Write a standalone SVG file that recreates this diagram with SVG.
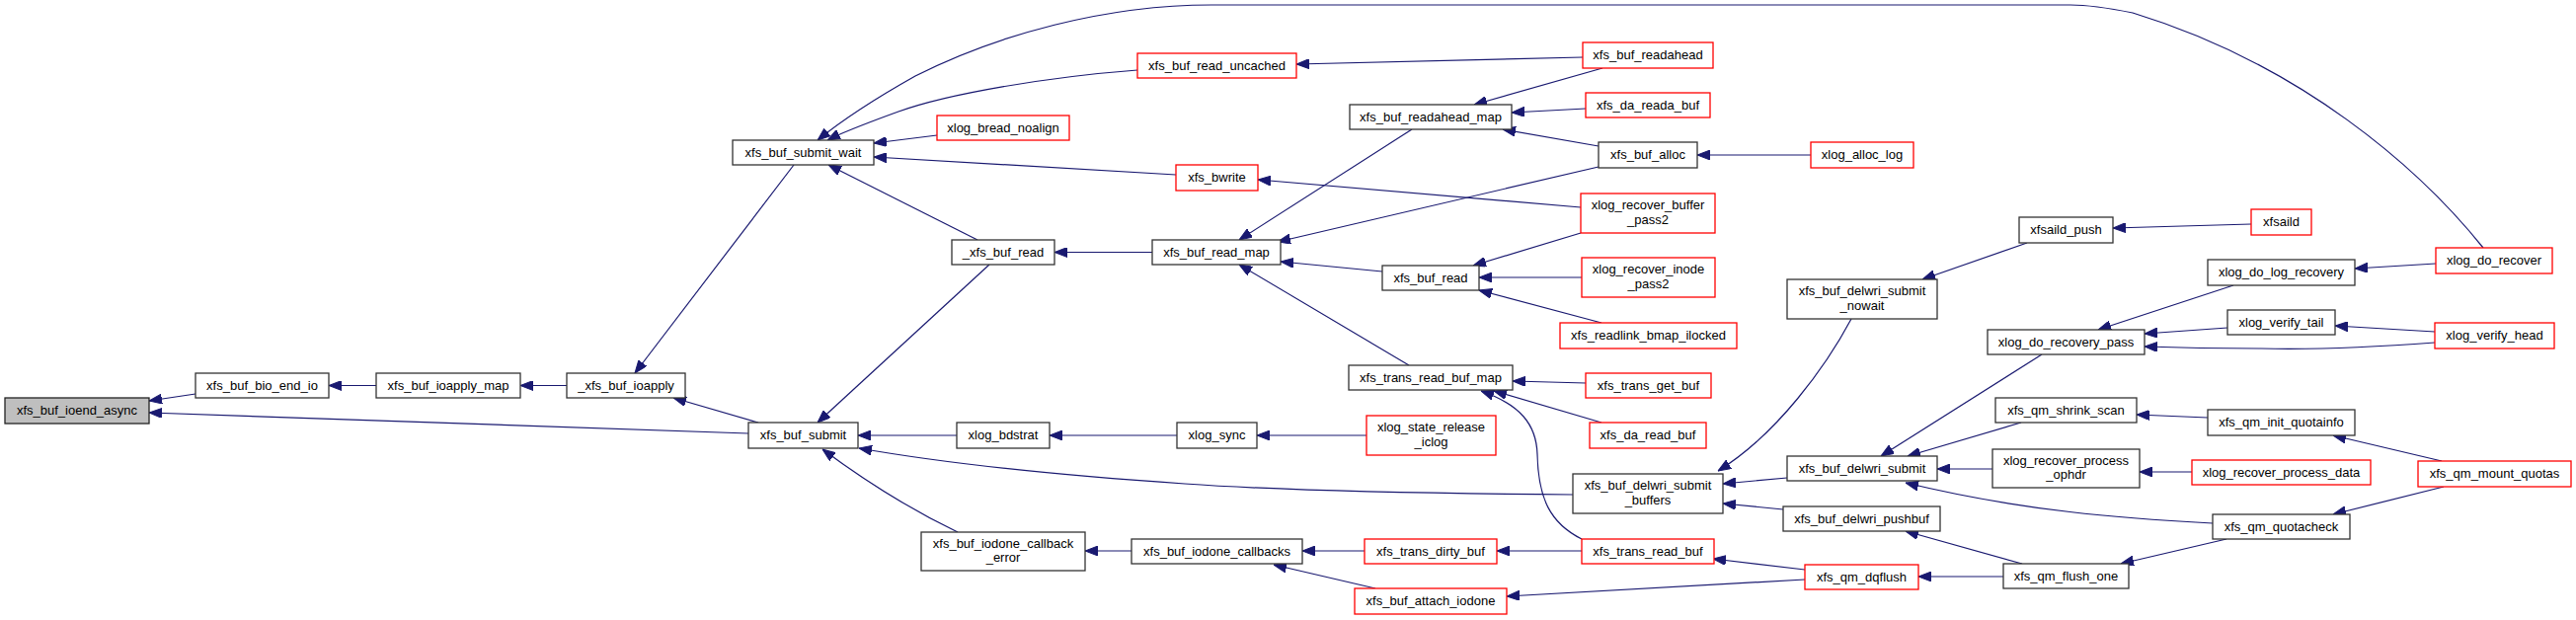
<svg xmlns="http://www.w3.org/2000/svg" width="2609" height="628" viewBox="0 0 2609 628">
<style>
.n rect{fill:#fff;stroke:#333;stroke-width:1.3}
.r rect{fill:#fff;stroke:#f00;stroke-width:1.3}
.root rect{fill:#bfbfbf;stroke:#222;stroke-width:1.3}
text{font-family:"Liberation Sans",Arial,sans-serif;font-size:13px;fill:#000;text-anchor:middle}
#edges path{fill:none;stroke:#191970;stroke-width:1.2;marker-end:url(#ah)}
</style>
<defs>
<marker id="ah" viewBox="0 0 13 10" refX="13" refY="5" markerWidth="13" markerHeight="10" markerUnits="userSpaceOnUse" orient="auto"><path d="M0,0 L13,5 L0,10 z" fill="#191970" stroke="#191970"/></marker>
</defs>
<rect width="2609" height="628" fill="#fff"/>
<g id="edges">
<path d="M198,399 L151,406"/>
<path d="M758,439 L151,418"/>
<path d="M381,390.5 L333,390.5"/>
<path d="M574,390.5 L527,390.5"/>
<path d="M804,167 L643,378"/>
<path d="M768,428 L682,403"/>
<path d="M2515,251 C2450,170 2330,65 2160,13 C2130,7 2110,5 2097,5 L1227,5 C1120,5 1010,35 927,77 C895,95 855,120 828,142"/>
<path d="M1152,71 C1060,78 960,95 910,113 C880,124 855,133 838,142"/>
<path d="M949,137 L885,145"/>
<path d="M1191,177 L885,159"/>
<path d="M990,243 L839,167"/>
<path d="M1167,255.5 L1068,255.5"/>
<path d="M1603,58 L1313,65"/>
<path d="M1623,69 L1493,106"/>
<path d="M1606,110 L1531,114"/>
<path d="M1619,148 L1522,131"/>
<path d="M1430,131 L1255,243"/>
<path d="M1619,169 L1294,245"/>
<path d="M1601,210 L1274,182"/>
<path d="M1400,275 L1297,265"/>
<path d="M1427,370 L1255,268"/>
<path d="M1601,236 L1492,269"/>
<path d="M1602,281 L1498,281"/>
<path d="M1622,327 L1498,294"/>
<path d="M1834,157 L1719,157"/>
<path d="M1606,388 L1532,386"/>
<path d="M1622,428 L1513,396"/>
<path d="M1602,546 C1570,530 1558,505 1557,460 C1556,430 1540,410 1500,396"/>
<path d="M1192,441 L1063,441"/>
<path d="M969,441 L869,441"/>
<path d="M1384,441 L1273,441"/>
<path d="M1593,501 C1450,500 1300,497 1200,490 C1050,480 950,468 870,454"/>
<path d="M970,539 C920,515 880,490 833,455"/>
<path d="M1002,268 L828,428"/>
<path d="M1146,558 L1099,558"/>
<path d="M1382,558 L1319,558"/>
<path d="M1393,596 L1290,572"/>
<path d="M1602,558 L1516,558"/>
<path d="M1828,577 L1735,566"/>
<path d="M1828,587 L1526,604"/>
<path d="M1875,323 C1850,370 1800,440 1740,477"/>
<path d="M1810,484 L1745,490"/>
<path d="M1806,516 L1745,510"/>
<path d="M2053,246 L1947,283"/>
<path d="M2280,227 L2140,231"/>
<path d="M2068,359 L1905,462"/>
<path d="M2047,428 L1932,462"/>
<path d="M2018,475 L1962,475"/>
<path d="M2241,530 C2150,525 2050,518 1930,489"/>
<path d="M2048,571 L1930,538"/>
<path d="M2029,584 L1943,584"/>
<path d="M2255,546 L2148,571"/>
<path d="M2262,289 L2125,334"/>
<path d="M2467,267 L2385,272"/>
<path d="M2256,332 L2172,338"/>
<path d="M2466,336 L2365,330"/>
<path d="M2466,347 C2400,352 2330,354 2290,353 C2240,353 2200,352 2172,351"/>
<path d="M2236,423 L2164,420"/>
<path d="M2220,478 L2167,478"/>
<path d="M2473,467 L2363,441"/>
<path d="M2475,493 L2363,521"/>
</g>
<g id="n0" class="root"><rect x="5" y="403" width="146" height="26"/><text x="78" y="420">xfs_buf_ioend_async</text></g>
<g id="n1" class="n"><rect x="198" y="378" width="135" height="25"/><text x="265.5" y="395">xfs_buf_bio_end_io</text></g>
<g id="n2" class="n"><rect x="381" y="378" width="146" height="25"/><text x="454" y="395">xfs_buf_ioapply_map</text></g>
<g id="n3" class="n"><rect x="574" y="378" width="120" height="25"/><text x="634" y="395">_xfs_buf_ioapply</text></g>
<g id="n4" class="n"><rect x="758" y="428" width="111" height="26"/><text x="813.5" y="445">xfs_buf_submit</text></g>
<g id="n5" class="n"><rect x="742" y="142" width="143" height="25"/><text x="813.5" y="159">xfs_buf_submit_wait</text></g>
<g id="n6" class="r"><rect x="1152" y="54" width="161" height="25"/><text x="1232.5" y="71">xfs_buf_read_uncached</text></g>
<g id="n7" class="r"><rect x="949" y="117" width="134" height="25"/><text x="1016" y="134">xlog_bread_noalign</text></g>
<g id="n8" class="r"><rect x="1191" y="167" width="83" height="26"/><text x="1232.5" y="184">xfs_bwrite</text></g>
<g id="n9" class="n"><rect x="964" y="243" width="104" height="25"/><text x="1016" y="260">_xfs_buf_read</text></g>
<g id="n10" class="n"><rect x="1167" y="243" width="130" height="25"/><text x="1232" y="260">xfs_buf_read_map</text></g>
<g id="n11" class="n"><rect x="969" y="428" width="94" height="26"/><text x="1016" y="445">xlog_bdstrat</text></g>
<g id="n12" class="n"><rect x="1192" y="428" width="81" height="26"/><text x="1232.5" y="445">xlog_sync</text></g>
<g id="n13" class="n"><rect x="933" y="539" width="166" height="39"/><text x="1016" y="555">xfs_buf_iodone_callback</text><text x="1016" y="569">_error</text></g>
<g id="n14" class="n"><rect x="1146" y="546" width="173" height="25"/><text x="1232.5" y="563">xfs_buf_iodone_callbacks</text></g>
<g id="n15" class="r"><rect x="1603" y="43" width="132" height="26"/><text x="1669" y="60">xfs_buf_readahead</text></g>
<g id="n16" class="n"><rect x="1367" y="106" width="164" height="25"/><text x="1449" y="123">xfs_buf_readahead_map</text></g>
<g id="n17" class="r"><rect x="1606" y="94" width="126" height="25"/><text x="1669" y="111">xfs_da_reada_buf</text></g>
<g id="n18" class="n"><rect x="1619" y="144" width="100" height="26"/><text x="1669" y="161">xfs_buf_alloc</text></g>
<g id="n19" class="r"><rect x="1601" y="196" width="136" height="40"/><text x="1669" y="212">xlog_recover_buffer</text><text x="1669" y="227">_pass2</text></g>
<g id="n20" class="n"><rect x="1400" y="269" width="98" height="25"/><text x="1449" y="286">xfs_buf_read</text></g>
<g id="n21" class="r"><rect x="1602" y="261" width="135" height="40"/><text x="1669.5" y="277">xlog_recover_inode</text><text x="1669.5" y="292">_pass2</text></g>
<g id="n22" class="r"><rect x="1580" y="327" width="179" height="26"/><text x="1669.5" y="344">xfs_readlink_bmap_ilocked</text></g>
<g id="n23" class="n"><rect x="1366" y="370" width="166" height="25"/><text x="1449" y="387">xfs_trans_read_buf_map</text></g>
<g id="n24" class="r"><rect x="1606" y="378" width="127" height="25"/><text x="1669.5" y="395">xfs_trans_get_buf</text></g>
<g id="n25" class="r"><rect x="1384" y="421" width="131" height="40"/><text x="1449.5" y="437">xlog_state_release</text><text x="1449.5" y="452">_iclog</text></g>
<g id="n26" class="r"><rect x="1610" y="428" width="118" height="26"/><text x="1669" y="445">xfs_da_read_buf</text></g>
<g id="n27" class="n"><rect x="1593" y="480" width="152" height="40"/><text x="1669" y="496">xfs_buf_delwri_submit</text><text x="1669" y="511">_buffers</text></g>
<g id="n28" class="r"><rect x="1382" y="546" width="134" height="25"/><text x="1449" y="563">xfs_trans_dirty_buf</text></g>
<g id="n29" class="r"><rect x="1602" y="546" width="134" height="25"/><text x="1669" y="563">xfs_trans_read_buf</text></g>
<g id="n30" class="r"><rect x="1372" y="596" width="154" height="26"/><text x="1449" y="613">xfs_buf_attach_iodone</text></g>
<g id="n31" class="r"><rect x="1834" y="144" width="104" height="26"/><text x="1886" y="161">xlog_alloc_log</text></g>
<g id="n32" class="n"><rect x="2045" y="220" width="95" height="26"/><text x="2092.5" y="237">xfsaild_push</text></g>
<g id="n33" class="n"><rect x="1810" y="283" width="152" height="40"/><text x="1886" y="299">xfs_buf_delwri_submit</text><text x="1886" y="314">_nowait</text></g>
<g id="n34" class="n"><rect x="2013" y="334" width="159" height="25"/><text x="2092.5" y="351">xlog_do_recovery_pass</text></g>
<g id="n35" class="n"><rect x="2021" y="403" width="143" height="25"/><text x="2092.5" y="420">xfs_qm_shrink_scan</text></g>
<g id="n36" class="n"><rect x="2018" y="455" width="149" height="39"/><text x="2092.5" y="471">xlog_recover_process</text><text x="2092.5" y="485">_ophdr</text></g>
<g id="n37" class="n"><rect x="1810" y="462" width="152" height="25"/><text x="1886" y="479">xfs_buf_delwri_submit</text></g>
<g id="n38" class="n"><rect x="1806" y="513" width="159" height="25"/><text x="1885.5" y="530">xfs_buf_delwri_pushbuf</text></g>
<g id="n39" class="r"><rect x="1828" y="572" width="115" height="25"/><text x="1885.5" y="589">xfs_qm_dqflush</text></g>
<g id="n40" class="n"><rect x="2029" y="571" width="127" height="25"/><text x="2092.5" y="588">xfs_qm_flush_one</text></g>
<g id="n41" class="r"><rect x="2280" y="212" width="61" height="26"/><text x="2310.5" y="229">xfsaild</text></g>
<g id="n42" class="r"><rect x="2467" y="251" width="118" height="26"/><text x="2526" y="268">xlog_do_recover</text></g>
<g id="n43" class="n"><rect x="2236" y="263" width="149" height="26"/><text x="2310.5" y="280">xlog_do_log_recovery</text></g>
<g id="n44" class="n"><rect x="2256" y="314" width="109" height="25"/><text x="2310.5" y="331">xlog_verify_tail</text></g>
<g id="n45" class="r"><rect x="2466" y="327" width="121" height="26"/><text x="2526.5" y="344">xlog_verify_head</text></g>
<g id="n46" class="n"><rect x="2236" y="415" width="149" height="26"/><text x="2310.5" y="432">xfs_qm_init_quotainfo</text></g>
<g id="n47" class="r"><rect x="2220" y="466" width="181" height="25"/><text x="2310.5" y="483">xlog_recover_process_data</text></g>
<g id="n48" class="r"><rect x="2449" y="467" width="155" height="26"/><text x="2526.5" y="484">xfs_qm_mount_quotas</text></g>
<g id="n49" class="n"><rect x="2241" y="521" width="139" height="25"/><text x="2310.5" y="538">xfs_qm_quotacheck</text></g>
</svg>
